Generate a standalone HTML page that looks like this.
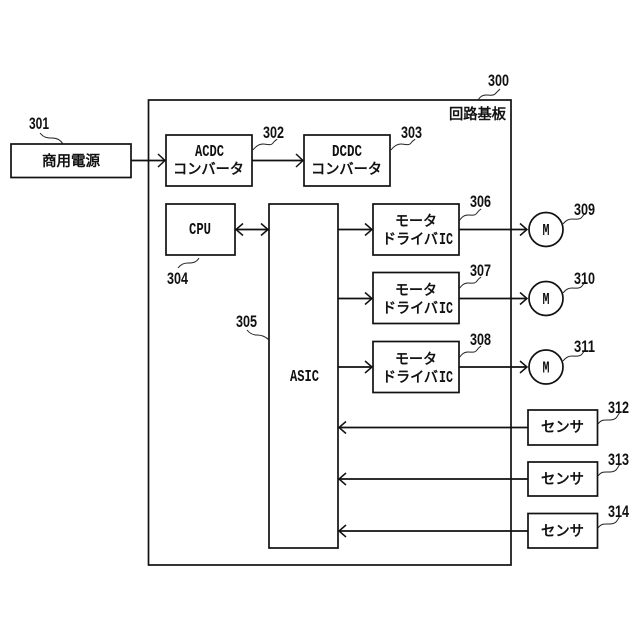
<!DOCTYPE html>
<html>
<head>
<meta charset="utf-8">
<style>
html,body{margin:0;padding:0;background:#fff}
svg{display:block}
text{font-family:"Liberation Sans","Noto Sans CJK JP",sans-serif;fill:#111;font-weight:bold}
.n{font-size:17px;font-family:"Liberation Sans",sans-serif}
.j{font-size:14.5px;font-weight:normal;stroke:#111;stroke-width:.55}
.l{font-size:17px;font-family:"Liberation Mono",monospace}
.b{fill:#fff;stroke:#111;stroke-width:1.7}
.c{fill:none;stroke:#111;stroke-width:1.7}
.w{fill:none;stroke:#222;stroke-width:1}
.a{fill:none;stroke:#111;stroke-width:1.5}
</style>
</head>
<body>
<svg width="640" height="640" viewBox="0 0 640 640" xmlns="http://www.w3.org/2000/svg">
<rect width="640" height="640" fill="#fff"/>
<rect class="b" x="148.5" y="100" width="362.5" height="465"/>
<rect class="b" x="11" y="144" width="120" height="33.500"/>
<rect class="b" x="166" y="135" width="86" height="51"/>
<rect class="b" x="304" y="135" width="86" height="51"/>
<rect class="b" x="166" y="204" width="69" height="51"/>
<rect class="b" x="269" y="204" width="69" height="344"/>
<rect class="b" x="373" y="204" width="86" height="51"/>
<rect class="b" x="373" y="272.500" width="86" height="51"/>
<rect class="b" x="373" y="341.500" width="86" height="51"/>
<circle class="b" cx="546" cy="229.500" r="17"/>
<circle class="b" cx="546" cy="298.500" r="17"/>
<circle class="b" cx="546" cy="367" r="17"/>
<rect class="b" x="528" y="410" width="69.500" height="35"/>
<rect class="b" x="528" y="462" width="69.500" height="34"/>
<rect class="b" x="528" y="513.500" width="69.500" height="34.500"/>

<path class="c" d="M131 160.500H165M252 160.500H303M235 229.500H269M338 229.500H372M338 298.500H372M338 367H372M459 229.500H527M459 298.500H527M459 367H527M528 427.500H339M528 479H339M528 531H339"/>
<path class="a" d="M158 154l7 6.500l-7 6.500M296 154l7 6.500l-7 6.500M243 223.500l-7 6l7 6M261 223.500l7 6l-7 6M365 223.500l7 6l-7 6M365 292.500l7 6l-7 6M365 361l7 6l-7 6M520 223.500l7 6l-7 6M520 292.500l7 6l-7 6M520 361l7 6l-7 6M346 421.500l-7 6l7 6M346 473l-7 6l7 6M346 525l-7 6l7 6"/>

<path class="w" d="M40 133c4 5 8 5 12 5s8 1 11 6M253 150c3-4 6-6 10-6s8 2 10-1s4-3 4-4M391 150c3-4 6-6 10-6s8 2 10-1s4-3 4-4M178 268c3-4 6-5 10-5s8 0 11-5M247 330c3 4 6 5 10 5s8 1 12 5M459 221c3-4 5-6 9-6s7 1 9-2s3-3 4-4M459 289c3-4 5-6 9-6s7 1 9-2s3-3 4-4M459 358c3-4 5-6 9-6s7 1 9-2s3-3 4-4M563 224c3-4 6-5 9-5s8 1 10-2s3-3 4-4M563 293c3-4 6-5 9-5s8 1 10-2s3-3 4-4M563 361c3-4 6-5 9-5s8 1 10-2s3-3 4-4M598 424c3-4 5-4 9-4s7 0 9-2s3-5 4-6M598 476c3-4 5-4 9-4s7 0 9-2s3-5 4-6M598 528c3-4 5-4 9-4s7 0 9-2s3-5 4-6M478 100c2-3 4-5 8-5s7 1 9-1s4-4 5-5"/>

<text class="n" x="29" y="129" textLength="20" lengthAdjust="spacingAndGlyphs">301</text>
<text class="n" x="263" y="138" textLength="21" lengthAdjust="spacingAndGlyphs">302</text>
<text class="n" x="401" y="138" textLength="21" lengthAdjust="spacingAndGlyphs">303</text>
<text class="n" x="167" y="284" textLength="21" lengthAdjust="spacingAndGlyphs">304</text>
<text class="n" x="236" y="327" textLength="21" lengthAdjust="spacingAndGlyphs">305</text>
<text class="n" x="470" y="207" textLength="21" lengthAdjust="spacingAndGlyphs">306</text>
<text class="n" x="470" y="276" textLength="21" lengthAdjust="spacingAndGlyphs">307</text>
<text class="n" x="470" y="345" textLength="21" lengthAdjust="spacingAndGlyphs">308</text>
<text class="n" x="574" y="215" textLength="21" lengthAdjust="spacingAndGlyphs">309</text>
<text class="n" x="574" y="284" textLength="21" lengthAdjust="spacingAndGlyphs">310</text>
<text class="n" x="574" y="352" textLength="21" lengthAdjust="spacingAndGlyphs">311</text>
<text class="n" x="608" y="413" textLength="21" lengthAdjust="spacingAndGlyphs">312</text>
<text class="n" x="608" y="465" textLength="21" lengthAdjust="spacingAndGlyphs">313</text>
<text class="n" x="608" y="517" textLength="21" lengthAdjust="spacingAndGlyphs">314</text>
<text class="n" x="488" y="86" textLength="21" lengthAdjust="spacingAndGlyphs">300</text>

<text class="j" x="449" y="119" textLength="57" lengthAdjust="spacingAndGlyphs">回路基板</text>
<text class="j" x="42" y="166" textLength="58" lengthAdjust="spacingAndGlyphs">商用電源</text>
<text class="l" x="195" y="156" textLength="29" lengthAdjust="spacingAndGlyphs">ACDC</text>
<text class="j" x="173" y="174" textLength="71" lengthAdjust="spacingAndGlyphs">コンバータ</text>
<text class="l" x="332" y="156" textLength="30" lengthAdjust="spacingAndGlyphs">DCDC</text>
<text class="j" x="311" y="174" textLength="71" lengthAdjust="spacingAndGlyphs">コンバータ</text>
<text class="l" x="189" y="234" textLength="22" lengthAdjust="spacingAndGlyphs">CPU</text>
<text class="l" x="290" y="381" textLength="29" lengthAdjust="spacingAndGlyphs">ASIC</text>

<text class="j" x="395" y="226" textLength="42" lengthAdjust="spacingAndGlyphs">モータ</text>
<text class="j" x="382" y="244" textLength="56" lengthAdjust="spacingAndGlyphs">ドライバ</text>
<text class="l" x="439" y="244" textLength="14" lengthAdjust="spacingAndGlyphs">IC</text>
<text class="j" x="395" y="295" textLength="42" lengthAdjust="spacingAndGlyphs">モータ</text>
<text class="j" x="382" y="313" textLength="56" lengthAdjust="spacingAndGlyphs">ドライバ</text>
<text class="l" x="439" y="313" textLength="14" lengthAdjust="spacingAndGlyphs">IC</text>
<text class="j" x="395" y="364" textLength="42" lengthAdjust="spacingAndGlyphs">モータ</text>
<text class="j" x="382" y="382" textLength="56" lengthAdjust="spacingAndGlyphs">ドライバ</text>
<text class="l" x="439" y="382" textLength="14" lengthAdjust="spacingAndGlyphs">IC</text>

<text class="l" x="542.500" y="235" textLength="7" lengthAdjust="spacingAndGlyphs">M</text>
<text class="l" x="542.500" y="304" textLength="7" lengthAdjust="spacingAndGlyphs">M</text>
<text class="l" x="542.500" y="372.500" textLength="7" lengthAdjust="spacingAndGlyphs">M</text>

<text class="j" x="541" y="432" textLength="43" lengthAdjust="spacingAndGlyphs">センサ</text>
<text class="j" x="541" y="484" textLength="43" lengthAdjust="spacingAndGlyphs">センサ</text>
<text class="j" x="541" y="536" textLength="43" lengthAdjust="spacingAndGlyphs">センサ</text>
</svg>
</body>
</html>
